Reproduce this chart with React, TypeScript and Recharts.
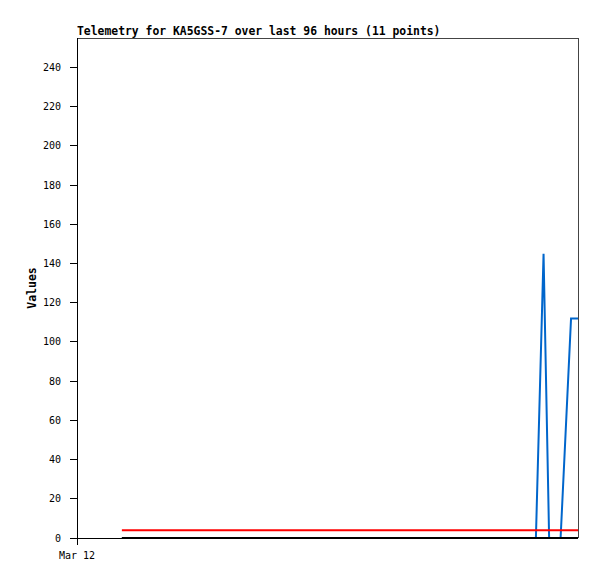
import { Line, LineChart, ReferenceLine, XAxis, YAxis } from 'recharts'

// minutes after Mar 12 00:00
const times = [129, 1319, 1341, 1357, 1390, 1420, 1440]
const channelA = [0, 0, 145, 0, 0, 112, 112]
const channelB = [4, 4, 4, 4, 4, 4, 4]
const channelC = [0, 0, 0, 0, 0, 0, 0]

const xTicks = [0]
const xTickLabels = ['Mar 12']
const yTicks = [0, 20, 40, 60, 80, 100, 120, 140, 160, 180, 200, 220, 240]

const title = 'Telemetry for KA5GSS-7 over last 96 hours (11 points)'

const data = times.map((t, i) => ({
  t,
  a: channelA[i],
  b: channelB[i],
  c: channelC[i],
}))

const mono = '"DejaVu Sans Mono", monospace'
const crisp = { stroke: '#000', shapeRendering: 'crispEdges' } as any

export default function App() {
  return (
    <div style={{ position: 'absolute', left: 0, top: 0, width: 597, height: 579, background: '#fff' }}>
      <LineChart
        width={597}
        height={579}
        data={data}
        margin={{ top: 38, right: 19, bottom: 0, left: 0 }}
      >
        <XAxis
          dataKey="t"
          type="number"
          domain={[0, 1440]}
          ticks={xTicks}
          tickFormatter={(v) => xTickLabels[xTicks.indexOf(v)] ?? ''}
          height={41}
          axisLine={crisp}
          tickLine={crisp}
          tickSize={7}
          tickMargin={7}
          tick={{ fontFamily: mono, fontSize: 10, fill: '#000' }}
        />
        <YAxis
          type="number"
          domain={[0, 255]}
          ticks={yTicks}
          width={77}
          axisLine={crisp}
          tickLine={crisp}
          tickSize={7}
          tickMargin={9}
          tick={{ fontFamily: mono, fontSize: 10, fill: '#000' }}
          label={{
            content: ({ viewBox }: any) => {
              const cx = viewBox.x + 32
              const cy = viewBox.y + viewBox.height / 2
              return (
                <text
                  x={cx}
                  y={cy}
                  transform={`rotate(-90 ${cx} ${cy})`}
                  textAnchor="middle"
                  dominantBaseline="central"
                  fontFamily={mono}
                  fontWeight="bold"
                  fontSize={11.5}
                  fill="#000"
                >
                  Values
                </text>
              )
            },
          }}
        />
        <ReferenceLine y={255} stroke="#444" strokeWidth={1} shapeRendering="crispEdges" />
        <ReferenceLine x={1440} stroke="#444" strokeWidth={1} shapeRendering="crispEdges" />
        <Line dataKey="a" type="linear" stroke="#0066cc" strokeWidth={2} dot={false} isAnimationActive={false} />
        <Line dataKey="b" type="linear" stroke="#ff0000" strokeWidth={2} dot={false} isAnimationActive={false} />
        <Line dataKey="c" type="linear" stroke="#000000" strokeWidth={2} dot={false} isAnimationActive={false} />
      </LineChart>
      <svg
        width={597}
        height={579}
        style={{ position: 'absolute', left: 0, top: 0, pointerEvents: 'none' }}
      >
        <text x={77} y={35} fontFamily={mono} fontWeight="bold" fontSize={11.4} fill="#000">
          {title}
        </text>
      </svg>
    </div>
  )
}
